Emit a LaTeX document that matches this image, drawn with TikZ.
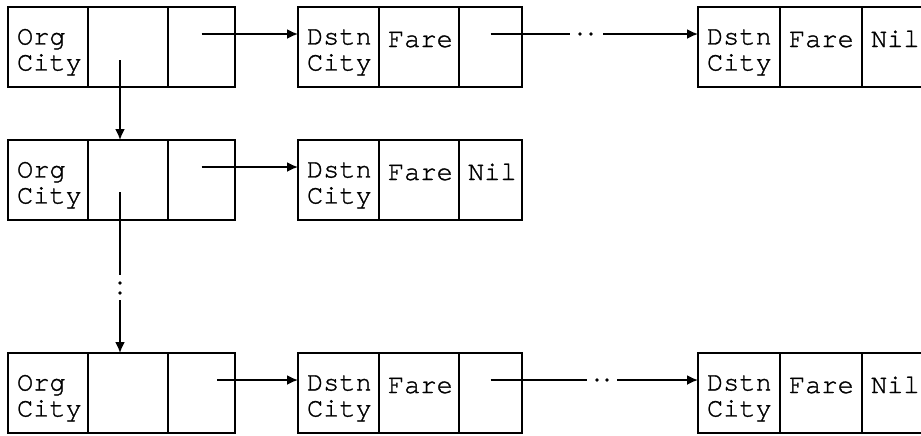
\documentclass[tikz,border=0pt]{standalone}
\usepackage{fontspec}
\newfontfamily\cellfont[FakeBold=1.1]{TeX Gyre Cursor}
\usetikzlibrary{arrows.meta,positioning}

\newcommand\celltop{\rule{0pt}{13pt}}

\tikzset{
  cell/.style={draw, outer sep=0pt, minimum height=40pt, inner xsep=4.5pt,
    inner ysep=0pt, align=left, text width=#1,
    execute at begin node=\celltop,
    font=\cellfont\fontsize{13.5}{13}\selectfont},
  cell/.default=31pt,
  dot/.style={fill, circle, inner sep=0pt, minimum size=1.8pt}
}

\begin{document}
\begin{tikzpicture}[node distance=0pt, line width=0.9pt,
    >={Latex[length=5.5pt,width=5pt]}]
  \useasboundingbox (0,0) rectangle (460.5pt,-217.5pt);

  % first origin record and its list
  \node[cell, anchor=north west] (o1a) at (4pt,-3.5pt) {Org\\City};
  \node[cell] (o1b) [right=of o1a] {};
  \node[cell=24.5pt] (o1c) [right=of o1b] {};
  \node[cell=31.5pt] (d1a) [right=31.5pt of o1c] {Dstn\\City};
  \node[cell] (d1b) [right=of d1a] {Fare\\\mbox{}};
  \node[cell=22.5pt] (d1c) [right=of d1b] {};
  \node[cell=32pt] (e1a) [right=88pt of d1c] {Dstn\\City};
  \node[cell=32pt] (e1b) [right=of e1a] {Fare\\\mbox{}};
  \node[cell] (e1c) [right=of e1b] {Nil\\\mbox{}};

  % second origin record
  \node[cell] (o2a) [below=26.5pt of o1a] {Org\\City};
  \node[cell] (o2b) [right=of o2a] {};
  \node[cell=24.5pt] (o2c) [right=of o2b] {};
  \node[cell=31.5pt] (d2a) [right=31.5pt of o2c] {Dstn\\City};
  \node[cell] (d2b) [right=of d2a] {Fare\\\mbox{}};
  \node[cell=22.5pt] (d2c) [right=of d2b] {Nil\\\mbox{}};

  % last origin record
  \node[cell] (o3a) [below=66.5pt of o2a] {Org\\City};
  \node[cell] (o3b) [right=of o3a] {};
  \node[cell=24.5pt] (o3c) [right=of o3b] {};
  \node[cell=31.5pt] (d3a) [right=31.5pt of o3c] {Dstn\\City};
  \node[cell] (d3b) [right=of d3a] {Fare\\\mbox{}};
  \node[cell=22.5pt] (d3c) [right=of d3b] {};
  \node[cell=32pt] (e3a) [right=88pt of d3c] {Dstn\\City};
  \node[cell=32pt] (e3b) [right=of e3a] {Fare\\\mbox{}};
  \node[cell] (e3c) [right=of e3b] {Nil\\\mbox{}};

  % gaps with dots
  \coordinate (g1) at ([xshift=24pt,yshift=6.5pt]d1c.east);
  \coordinate (g1b) at ([xshift=40.5pt,yshift=6.5pt]d1c.east);
  \coordinate (g3) at ([xshift=32.5pt,yshift=6.5pt]d3c.east);
  \coordinate (g3b) at ([xshift=47.5pt,yshift=6.5pt]d3c.east);
  \coordinate (v1) at ([xshift=-4pt,yshift=-27.5pt]o2b.south);
  \coordinate (v2) at ([xshift=-4pt,yshift=-40pt]o2b.south);
  \node[dot] (p1) at ([xshift=29pt,yshift=6.5pt]d1c.east) {};
  \node[dot] (p2) at ([xshift=34.5pt,yshift=6.5pt]d1c.east) {};
  \node[dot] (p3) at ([xshift=37.5pt,yshift=6.5pt]d3c.east) {};
  \node[dot] (p4) at ([xshift=42.5pt,yshift=6.5pt]d3c.east) {};
  \node[dot] (p5) at ([xshift=-4pt,yshift=-31.5pt]o2b.south) {};
  \node[dot] (p6) at ([xshift=-4pt,yshift=-36.5pt]o2b.south) {};

  % pointers
  \draw[->] ([yshift=6.5pt]o1c.center) -- ([yshift=6.5pt]d1a.west);
  \draw ([yshift=6.5pt]d1c.center) -- (g1);
  \draw[->] (g1b) -- ([yshift=6.5pt]e1a.west);
  \draw[->] ([yshift=6.5pt]o2c.center) -- ([yshift=6.5pt]d2a.west);
  \draw[->] ([xshift=7.75pt,yshift=6.5pt]o3c.center) -- ([yshift=6.5pt]d3a.west);
  \draw ([yshift=6.5pt]d3c.center) -- (g3);
  \draw[->] (g3b) -- ([yshift=6.5pt]e3a.west);
  \draw[->] ([xshift=-4pt,yshift=-6.5pt]o1b.center) -- ([xshift=-4pt]o2b.north);
  \draw ([xshift=-4pt,yshift=-6pt]o2b.center) -- (v1);
  \draw[->] (v2) -- ([xshift=-4pt]o3b.north);
\end{tikzpicture}
\end{document}
